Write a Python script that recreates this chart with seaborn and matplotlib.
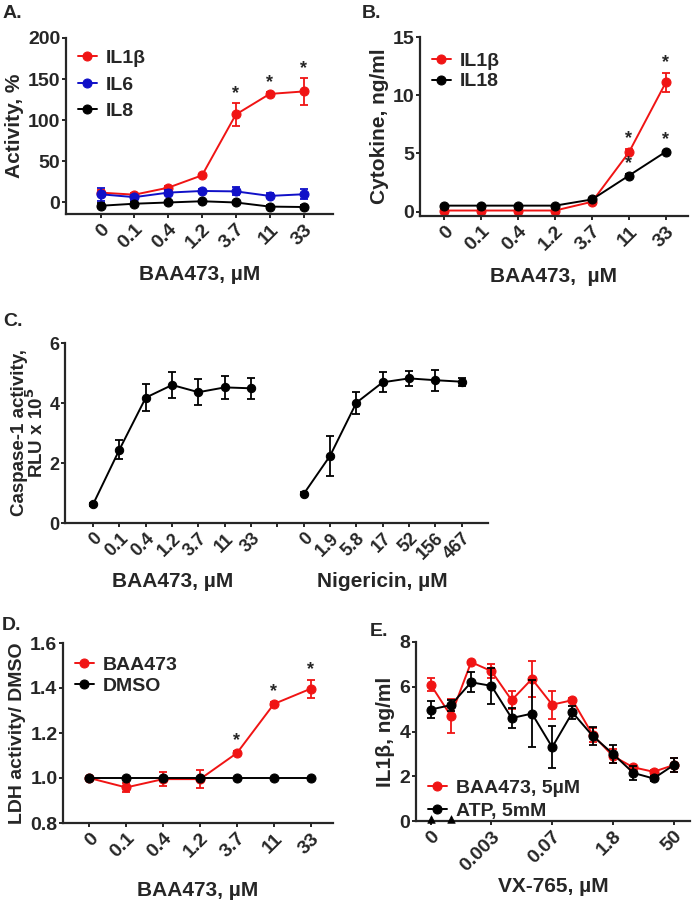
import matplotlib
matplotlib.use("Agg")
import matplotlib.pyplot as plt
import seaborn as sns

# ---- data ----
baa_doses = ["0", "0.1", "0.4", "1.2", "3.7", "11", "33"]
nig_doses = ["0", "1.9", "5.8", "17", "52", "156", "467"]

# A. activity, %
a_il1b = [12, 9.5, 18, 33, 107, 132, 135]
a_il1b_err = [3, 2, 2, 2, 14, 2, 16]
a_il6 = [10, 6.5, 12, 14, 13.5, 8, 10]
a_il6_err = [8, 3, 3, 2, 5, 3, 6]
a_il8 = [-4, -1.5, 0, 1.5, 0, -5, -5.5]
a_il8_err = [3, 2, 1, 1, 2, 2, 2]
a_star = [4, 5, 6]

# B. cytokine, ng/ml
b_il1b = [0.1, 0.1, 0.1, 0.1, 0.85, 5.1, 11.1]
b_il1b_err = [0.05, 0.05, 0.05, 0.05, 0.1, 0.25, 0.8]
b_il18 = [0.52, 0.52, 0.52, 0.52, 1.05, 3.1, 5.15]
b_il18_err = [0.05, 0.05, 0.05, 0.05, 0.15, 0.1, 0.1]

# C. caspase-1 activity, RLU x 10^5
c_baa = [0.63, 2.45, 4.18, 4.6, 4.36, 4.52, 4.49]
c_baa_err = [0.05, 0.32, 0.45, 0.43, 0.44, 0.38, 0.34]
c_nig = [0.97, 2.24, 4.01, 4.69, 4.82, 4.76, 4.71]
c_nig_err = [0.05, 0.67, 0.36, 0.33, 0.24, 0.35, 0.13]

# D. LDH activity / DMSO
d_baa = [1.0, 0.958, 0.995, 0.995, 1.111, 1.329, 1.397]
d_baa_err = [0.003, 0.02, 0.03, 0.04, 0.008, 0.008, 0.04]
d_dmso = [1.0, 1.0, 1.0, 1.0, 1.0, 1.0, 1.0]
d_dmso_err = [0.002] * 7
d_star = [4, 5, 6]

# E. IL1b, ng/ml vs VX-765
e_tick_pos = [0, 3, 6, 9, 12]
e_tick_lab = ["0", "0.003", "0.07", "1.8", "50"]
e_baa = [6.1, 4.7, 7.1, 6.7, 5.4, 6.35, 5.2, 5.4, 3.85, 2.9, 2.4, 2.2, 2.5]
e_baa_err = [0.3, 0.75, 0.05, 0.3, 0.4, 0.8, 0.62, 0.08, 0.3, 0.3, 0.1, 0.1, 0.3]
e_atp = [4.98, 5.18, 6.2, 6.04, 4.6, 4.8, 3.3, 4.85, 3.8, 3.0, 2.15, 1.9, 2.5]
e_atp_err = [0.38, 0.25, 0.45, 0.8, 0.45, 1.5, 0.95, 0.3, 0.4, 0.4, 0.3, 0.1, 0.3]
e_tri = [0, 1]

RED = "#f01414"
BLUE = "#1010c8"
BLACK = "#000000"

sns.set_theme(style="ticks")
plt.rcParams['font.family'] = ['Liberation Sans', 'DejaVu Sans']
plt.rcParams['font.weight'] = 'bold'
plt.rcParams['axes.labelweight'] = 'bold'
plt.rcParams['axes.linewidth'] = 1.6
plt.rcParams['xtick.major.width'] = 1.4
plt.rcParams['ytick.major.width'] = 1.4
plt.rcParams['xtick.major.size'] = 3
plt.rcParams['ytick.major.size'] = 3

W, H = 693, 902
fig = plt.figure(figsize=(W / 100, H / 100), dpi=100)

TICK_FS = 14
LAB_FS = 15
LEG_FS = 14


def px_axes(left, top, right, bottom):
    return fig.add_axes([left / W, 1 - bottom / H, (right - left) / W, (bottom - top) / H])


def series(ax, x, y, err, color, label=None, ms=6.5):
    sns.lineplot(x=x, y=y, ax=ax, color=color, marker='o', markersize=ms,
                 markeredgecolor=color, linewidth=1.4, label=label, legend=False)
    ax.errorbar(x, y, yerr=err, fmt='none', ecolor=color, elinewidth=1.3,
                capsize=3, capthick=1.3)


def style(ax, fs=TICK_FS):
    sns.despine(ax=ax)
    ax.tick_params(axis='x', labelsize=fs, pad=2)
    ax.tick_params(axis='y', labelsize=fs, pad=1)
    for t in ax.get_xticklabels():
        t.set_rotation(45)
        t.set_ha('right')
        t.set_rotation_mode('anchor')
        t.set_fontweight('bold')
    for t in ax.get_yticklabels():
        t.set_fontweight('bold')


def stars(ax, idx, y, err, off):
    for i in idx:
        ax.text(i, y[i] + err[i] + off, "*", ha='center', va='bottom',
                fontsize=13, fontweight='bold')


def legend(ax, **kw):
    ax.legend(frameon=False, handlelength=1.0, handletextpad=0.45,
              prop={'size': LEG_FS, 'weight': 'bold'}, borderaxespad=0.2, **kw)


x7 = list(range(7))

# ---- A ----
axA = px_axes(66, 38, 333, 214)
series(axA, x7, a_il1b, a_il1b_err, RED, "IL1β")
series(axA, x7, a_il6, a_il6_err, BLUE, "IL6")
series(axA, x7, a_il8, a_il8_err, BLACK, "IL8")
stars(axA, a_star, a_il1b, a_il1b_err, 1)
axA.set_xlim(-1.02, 6.87)
axA.set_ylim(-14, 200)
axA.set_yticks([0, 50, 100, 150, 200])
axA.set_xticks(x7)
axA.set_xticklabels(baa_doses)
axA.set_xlabel("BAA473, µM", fontsize=LAB_FS, labelpad=9)
axA.set_ylabel("Activity, %", fontsize=LAB_FS, labelpad=3)
legend(axA, loc='upper left', bbox_to_anchor=(0.0, 1.0), labelspacing=0.45)
style(axA)

# ---- B ----
axB = px_axes(420, 37, 688, 216)
series(axB, x7, b_il1b, b_il1b_err, RED, "IL1β")
series(axB, x7, b_il18, b_il18_err, BLACK, "IL18")
stars(axB, [5, 6], b_il1b, b_il1b_err, 0.2)
stars(axB, [5, 6], b_il18, b_il18_err, 0.2)
axB.set_xlim(-0.66, 6.6)
axB.set_ylim(-0.37, 15)
axB.set_yticks([0, 5, 10, 15])
axB.set_xticks(x7)
axB.set_xticklabels(baa_doses)
axB.set_xlabel("BAA473,  µM", fontsize=LAB_FS, labelpad=9)
axB.set_ylabel("Cytokine, ng/ml", fontsize=LAB_FS, labelpad=3)
legend(axB, loc='upper left', bbox_to_anchor=(0.0, 0.98), labelspacing=0.15)
style(axB)

# ---- C ----
narrow = ['Liberation Sans Narrow', 'DejaVu Sans Condensed', 'Liberation Sans']
axC = px_axes(65, 343, 488, 523)
x_nig = [i + 8 for i in x7]
series(axC, x7, c_baa, c_baa_err, BLACK, ms=6)
series(axC, x_nig, c_nig, c_nig_err, BLACK, ms=6)
axC.set_xlim(-1.07, 15)
axC.set_ylim(0, 6)
axC.set_yticks([0, 2, 4, 6])
axC.set_xticks(list(range(15)))
axC.set_xticklabels(baa_doses + [""] + nig_doses)
style(axC, fs=13)
for t in axC.get_xticklabels() + axC.get_yticklabels():
    t.set_family(narrow)
axC.set_ylabel("Caspase-1 activity,\nRLU x 10$^{5}$", fontsize=13.5,
               family=narrow, linespacing=0.85, labelpad=2)
axC.text(3, -1.95, "BAA473, µM", ha='center', va='center', fontsize=15,
         family=narrow, transform=axC.transData)
axC.text(11, -1.95, "Nigericin, µM", ha='center', va='center', fontsize=15,
         family=narrow, transform=axC.transData)

# ---- D ----
axD = px_axes(63, 643, 333, 823)
series(axD, x7, d_baa, d_baa_err, RED, "BAA473")
series(axD, x7, d_dmso, d_dmso_err, BLACK, "DMSO")
stars(axD, d_star, d_baa, d_baa_err, 0.008)
axD.set_xlim(-0.71, 6.6)
axD.set_ylim(0.8, 1.6)
axD.set_yticks([0.8, 1.0, 1.2, 1.4, 1.6])
axD.set_yticklabels(["0.8", "1.0", "1.2", "1.4", "1.6"])
axD.set_xticks(x7)
axD.set_xticklabels(baa_doses)
axD.set_xlabel("BAA473, µM", fontsize=LAB_FS, labelpad=14)
axD.set_ylabel("LDH activity/ DMSO", fontsize=14, labelpad=3)
legend(axD, loc='upper left', bbox_to_anchor=(0.0, 0.99), labelspacing=0.15)
style(axD)

# ---- E ----
axE = px_axes(416, 642, 690, 821)
x13 = list(range(13))
series(axE, x13, e_baa, e_baa_err, RED, "BAA473, 5µM")
series(axE, x13, e_atp, e_atp_err, BLACK, "ATP, 5mM")
sns.scatterplot(x=e_tri, y=[0.08] * len(e_tri), ax=axE, marker='^', s=30,
                color=BLACK, edgecolor=BLACK, clip_on=False, zorder=5, legend=False)
axE.set_xlim(-0.72, 12.8)
axE.set_ylim(0, 8)
axE.set_yticks([0, 2, 4, 6, 8])
axE.set_xticks(e_tick_pos)
axE.set_xticklabels(e_tick_lab)
axE.set_xlabel("VX-765, µM", fontsize=LAB_FS, labelpad=2)
axE.set_ylabel("IL1β, ng/ml", fontsize=LAB_FS, labelpad=3)
legend(axE, loc='lower left', bbox_to_anchor=(0.0, -0.06), labelspacing=0.3)
style(axE)

# panel letters
for txt, x, y in [("A.", 3, 13), ("B.", 362, 14), ("C.", 3, 322), ("D.", 2, 625), ("E.", 370, 632)]:
    fig.text(x / W, 1 - y / H, txt, fontsize=14, fontweight='bold', ha='left', va='center')

fig.savefig("out.png", dpi=100)
